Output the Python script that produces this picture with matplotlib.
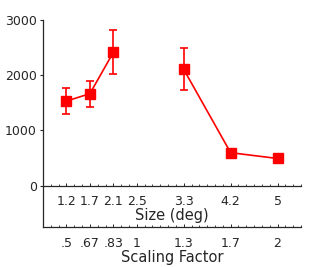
import numpy as np
import matplotlib
matplotlib.use('Agg')
import matplotlib.pyplot as plt
from matplotlib.ticker import MultipleLocator

# data
size_deg = [1.25, 5/3, 25/12, 2.5, 10/3, 25/6, 5.0]
size_labels = ['1.2', '1.7', '2.1', '2.5', '3.3', '4.2', '5']
scale_labels = ['.5', '.67', '.83', '1', '1.3', '1.7', '2']
values = [1530, 1665, 2415, np.nan, 2105, 595, 490]
err_lo = [225, 235, 385, np.nan, 375, 40, 35]
err_hi = [230, 225, 395, np.nan, 385, 40, 35]

ink = '#262626'
plt.rcParams['font.family'] = 'DejaVu Sans'

fig = plt.figure(figsize=(3.34, 2.67), dpi=100)
ax = fig.add_axes([43/334, 1-227/267, (301-43)/334, (227-20)/267])

ax.errorbar(size_deg, values, yerr=[err_lo, err_hi], color='red', lw=1.2,
            marker='s', ms=7, capsize=3, elinewidth=1.2, capthick=1.2)

ax.set_xlim(5/6, 65/12)
ax.set_ylim(-752, 3000)

for s in ['top', 'right']:
    ax.spines[s].set_visible(False)
ax.spines['bottom'].set_position(('data', 0))
ax.spines['left'].set_bounds(-752, 3000)
for s in ['left', 'bottom']:
    ax.spines[s].set_color(ink)
    ax.spines[s].set_linewidth(0.9)

ax.set_yticks([0, 1000, 2000, 3000])
ax.tick_params(axis='y', direction='out', length=2.5, width=0.8, colors=ink,
               labelsize=9, pad=2)
ax.set_xticks(size_deg)
ax.set_xticklabels(size_labels)
ax.xaxis.set_minor_locator(MultipleLocator(5/36))
ax.tick_params(axis='x', which='major', direction='in', length=2, width=0.7,
               colors=ink, labelsize=9, pad=7)
ax.tick_params(axis='x', which='minor', direction='in', length=1.5, width=0.6,
               colors=ink)
ax.set_xlabel('Size (deg)', fontsize=10.5, color=ink, labelpad=0)

# second x axis: scaling factor
ax2 = ax.twiny()
ax2.set_xlim(ax.get_xlim())
ax2.xaxis.set_ticks_position('bottom')
ax2.xaxis.set_label_position('bottom')
ax2.spines['bottom'].set_position(('axes', 0))
for s in ['top', 'right', 'left']:
    ax2.spines[s].set_visible(False)
ax2.spines['bottom'].set_color(ink)
ax2.spines['bottom'].set_linewidth(0.9)
ax2.set_xticks(size_deg)
ax2.set_xticklabels(scale_labels)
ax2.xaxis.set_minor_locator(MultipleLocator(5/36))
ax2.tick_params(axis='x', which='major', direction='in', length=2, width=0.7,
                colors=ink, labelsize=9, pad=7)
ax2.tick_params(axis='x', which='minor', direction='in', length=1.5, width=0.6,
                colors=ink)
ax2.set_xlabel('Scaling Factor', fontsize=10.5, color=ink, labelpad=0)

fig.savefig('out.png', dpi=100)
